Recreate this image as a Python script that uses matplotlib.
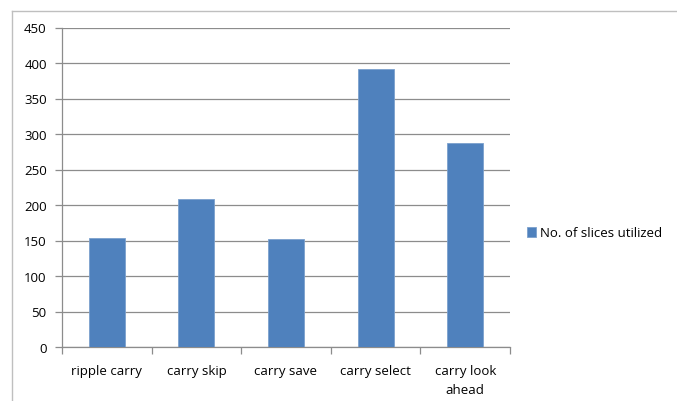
import matplotlib
matplotlib.use("Agg")
import matplotlib.pyplot as plt
from matplotlib.lines import Line2D
import numpy as np

categories = ["ripple carry", "carry skip", "carry save", "carry select", "carry look\nahead"]
slices = [153, 209, 152, 391, 287]
series_name = "No. of slices utilized"
y_ticks = list(range(0, 451, 50))

plt.rcParams["font.family"] = ["Open Sans", "DejaVu Sans"]

W, H = 677, 402
fig = plt.figure(figsize=(W / 100, H / 100), dpi=100)
ax = fig.add_axes([62 / W, 1 - 348 / H, (510 - 62) / W, (348 - 28.5) / H])

x = np.arange(len(categories))
ax.bar(x, slices, width=0.4, color="#4F81BD", edgecolor="#7BA0CD", linewidth=0.6,
       label=series_name, zorder=3)

ax.set_xlim(-0.5, len(categories) - 0.5)
ax.set_ylim(0, 450)
ax.set_yticks(y_ticks)
ax.set_yticklabels([str(v) for v in y_ticks], fontsize=9.5)
ax.yaxis.grid(True, color="#8C8C8C", linewidth=0.9, zorder=0)

ax.set_xticks(x)
ax.set_xticklabels(categories, fontsize=9.5, linespacing=1.65)
ax.set_xticks(np.arange(-0.5, len(categories)), minor=True)
ax.tick_params(axis="x", which="major", length=0, pad=12)
ax.tick_params(axis="x", which="minor", length=5, color="#8C8C8C", width=0.9)
ax.tick_params(axis="y", length=5, color="#8C8C8C", width=0.9, pad=6)

for side in ("top", "right"):
    ax.spines[side].set_visible(False)
for side in ("left", "bottom"):
    ax.spines[side].set_color("#8C8C8C")
    ax.spines[side].set_linewidth(0.9)

ax.legend(loc="center left", bbox_to_anchor=(515 / W, 1 - 234 / H),
          bbox_transform=fig.transFigure, frameon=False, fontsize=9.5,
          handlelength=0.7, handleheight=0.7, handletextpad=0.3)

# chart area border
fig.add_artist(Line2D([12 / W, 12 / W], [0, 1 - 12 / H], transform=fig.transFigure,
                      color="#BFBFBF", linewidth=1.0))
fig.add_artist(Line2D([12 / W, 1], [1 - 12 / H, 1 - 12 / H], transform=fig.transFigure,
                      color="#BFBFBF", linewidth=1.0))

fig.savefig("out.png", dpi=100)
